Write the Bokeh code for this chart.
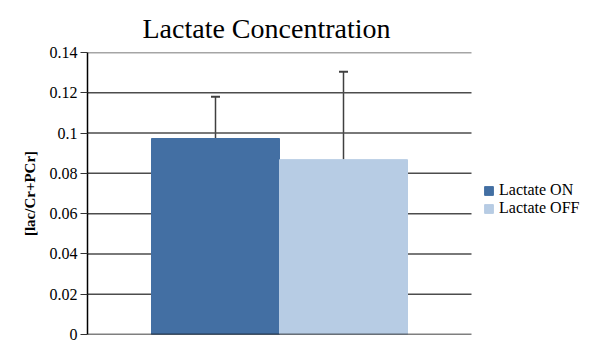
from bokeh.plotting import figure
from bokeh.models import (ColumnDataSource, Range1d, FixedTicker, CustomJSTickFormatter,
                          Whisker, TeeHead, Legend, LegendItem)
from bokeh.embed import file_html
from bokeh.resources import INLINE

# data
series = ["Lactate ON", "Lactate OFF"]
values = [0.0973, 0.0868]
errors = [0.0207, 0.0436]
colors = ["#436FA3", "#B7CCE4"]
y_ticks = [0, 0.02, 0.04, 0.06, 0.08, 0.1, 0.12, 0.14]

n = len(series)
xs = [i + 1 for i in range(n)]
src = ColumnDataSource(dict(
    x=xs, top=values, upper=[v + e for v, e in zip(values, errors)],
    color=colors, label=series,
))

SERIF = "Liberation Serif"
LEFT = 87
PLOT_W = 384          # width of the plotting area proper (pixels)
FRAME_W = 584 - LEFT  # frame also holds the legend on the right
x_end = n + 1         # data extent of the category axis
x_max = x_end * FRAME_W / PLOT_W

p = figure(frame_width=FRAME_W, frame_height=282, output_backend="svg", toolbar_location=None,
           x_range=Range1d(0, x_max), y_range=Range1d(0, 0.14),
           min_border_left=LEFT, min_border_right=0, min_border_top=52, min_border_bottom=10)
p.outline_line_color = None
p.background_fill_color = "white"
p.border_fill_color = "white"

p.title.text = "Lactate Concentration"
p.title.text_font = SERIF
p.title.text_font_size = "28px"
p.title.text_font_style = "normal"
p.title.align = "left"
p.title.offset = 55
p.title.text_color = "black"
p.title.standoff = 18

# gridlines limited to the plotting area
grid_y = y_ticks[1:]
p.segment(x0=[0] * len(grid_y), x1=[x_end] * len(grid_y), y0=grid_y, y1=grid_y,
          line_color="#4d4d4d", line_width=1.5)

r = p.vbar(x="x", top="top", width=1.0, bottom=0, source=src, fill_color="color",
           line_color="color")

# category baseline
p.segment(x0=[0], x1=[x_end], y0=[0], y1=[0], line_color="black", line_width=1.5)

w = Whisker(base="x", lower="top", upper="upper", source=src, dimension="height",
            line_color="#404040", line_width=1.5,
            upper_head=TeeHead(size=9, line_color="#404040", line_width=2), lower_head=None)
p.add_layout(w)

# y axis
yax = p.yaxis[0]
yax.ticker = FixedTicker(ticks=y_ticks)
yax.formatter = CustomJSTickFormatter(code="return String(parseFloat(tick.toFixed(2)));")
yax.major_label_text_font = SERIF
yax.major_label_text_font_size = "16px"
yax.major_label_text_color = "black"
yax.major_tick_in = 0
yax.major_tick_out = 7
yax.minor_tick_in = 0
yax.minor_tick_out = 0
yax.major_tick_line_color = "#333333"
yax.axis_line_color = "black"
yax.axis_line_width = 1.5
yax.major_label_standoff = 3
yax.axis_label = "[lac/Cr+PCr]"
yax.axis_label_text_font = SERIF
yax.axis_label_text_font_size = "15px"
yax.axis_label_text_font_style = "bold"
yax.axis_label_text_color = "black"
yax.axis_label_standoff = 9

# x axis (line drawn as the baseline segment above)
xax = p.xaxis[0]
xax.ticker = FixedTicker(ticks=[])
xax.major_label_standoff = 0
xax.major_tick_line_color = None
xax.minor_tick_line_color = None
xax.axis_line_color = None

p.xgrid.grid_line_color = None
p.ygrid.grid_line_color = None

items = [LegendItem(label=s, renderers=[r], index=i) for i, s in enumerate(series)]
leg = Legend(items=items, location=(PLOT_W + 12, 117))
leg.label_text_font = SERIF
leg.label_text_font_size = "16px"
leg.label_text_color = "black"
leg.glyph_width = 11
leg.glyph_height = 11
leg.label_standoff = 5
leg.spacing = 0
leg.label_height = 13
leg.padding = 4
leg.margin = 0
leg.border_line_color = None
leg.background_fill_alpha = 0
p.add_layout(leg, "center")

open("out.html", "w").write(file_html(p, INLINE))
